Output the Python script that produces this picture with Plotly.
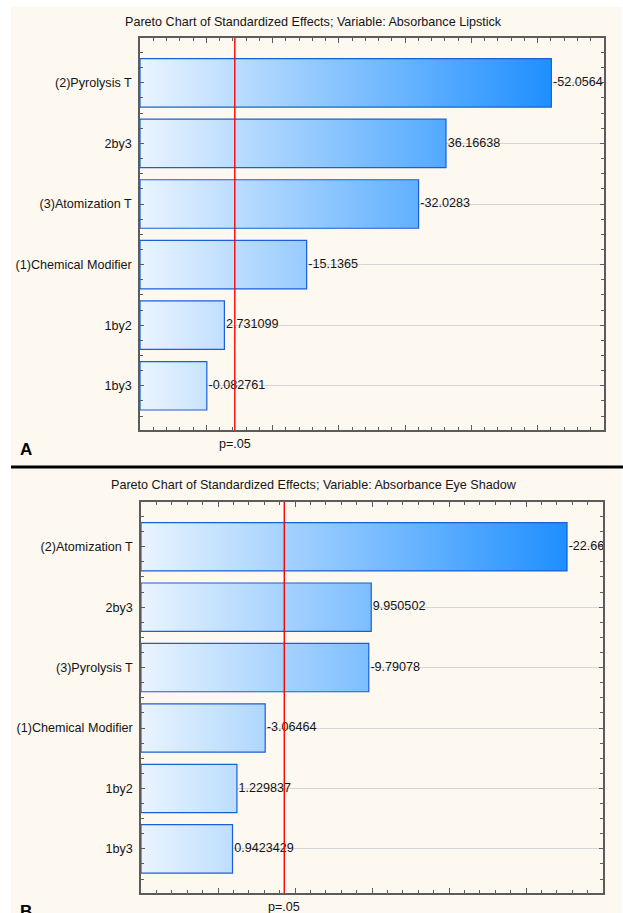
import plotly.graph_objects as go

# ---------------- data ----------------
CATS_A = ["(2)Pyrolysis T", "2by3", "(3)Atomization T", "(1)Chemical Modifier", "1by2", "1by3"]
EFFECTS_A = [-52.0564, 36.16638, -32.0283, -15.1365, 2.731099, -0.082761]
TITLE_A = "Pareto Chart of Standardized Effects; Variable: Absorbance Lipstick"

CATS_B = ["(2)Atomization T", "2by3", "(3)Pyrolysis T", "(1)Chemical Modifier", "1by2", "1by3"]
EFFECTS_B = [-22.6648, 9.950502, -9.79078, -3.06464, 1.229837, 0.9423429]
TITLE_B = "Pareto Chart of Standardized Effects; Variable: Absorbance Eye Shadow"

T_CRIT = 4.303          # p=.05 critical value
P_LABEL = "p=.05"

X_RANGE_A = [-10, 60]
X_RANGE_B = [-5, 25]

# ---------------- style ----------------
FONT = "Liberation Sans, Arial, sans-serif"
FS = 12.6
TXT = "#151515"
AXC = "#5c5c5c"
CREAM = "#fdf8f0"
BAR_LINE = "#1a5fd6"
GRAD = [[0, "#eaf4fe"], [1, "#1e8fff"]]
BAR_H = 0.8
W, H = 623, 913


def px_x(p):
    return p / W


def px_y(p):
    return 1 - p / H


fig = go.Figure()


def add_panel(idx, cats, effects, xr, dtick, minor_dtick, dom_x, dom_y):
    xa = "x" if idx == 1 else f"x{idx}"
    ya = "y" if idx == 1 else f"y{idx}"
    pos = list(range(len(cats)))
    mags = [abs(v) for v in effects]
    base = xr[0]
    bx, by = [], []
    for p, m in zip(pos, mags):
        bx += [base, m, m, base, base, None]
        by += [p - BAR_H / 2, p - BAR_H / 2, p + BAR_H / 2, p + BAR_H / 2, p - BAR_H / 2, None]
    fig.add_trace(go.Scatter(
        x=bx, y=by, xaxis=xa, yaxis=ya, mode="lines", fill="toself",
        line=dict(color=BAR_LINE, width=1.2),
        fillgradient=dict(type="horizontal", colorscale=GRAD, start=base, stop=max(mags)),
        hoverinfo="skip", showlegend=False,
    ))
    fig.add_trace(go.Scatter(
        x=mags, y=pos, xaxis=xa, yaxis=ya, mode="markers+text",
        marker=dict(size=1, opacity=0),
        text=[str(v) for v in effects], textposition="middle right",
        textfont=dict(family=FONT, size=FS, color=TXT),
        cliponaxis=True, showlegend=False, hoverinfo="skip",
    ))
    key_x = "xaxis" if idx == 1 else f"xaxis{idx}"
    key_y = "yaxis" if idx == 1 else f"yaxis{idx}"
    fig.layout[key_x] = dict(
        domain=dom_x, anchor=ya, range=xr, showgrid=False, zeroline=False,
        showline=True, linecolor=AXC, linewidth=1.5, mirror="ticks",
        ticks="inside", tickcolor=AXC, ticklen=5, tickwidth=1, dtick=dtick, tick0=0,
        showticklabels=False, fixedrange=True,
        minor=dict(dtick=minor_dtick, tick0=0, ticks="inside", ticklen=3, tickcolor=AXC, tickwidth=1),
    )
    fig.layout[key_y] = dict(
        domain=dom_y, anchor=xa, range=[len(cats) - 0.27, -0.74],
        tickmode="array", tickvals=pos, ticktext=cats,
        tickfont=dict(family=FONT, size=FS, color=TXT),
        showgrid=True, gridcolor="#d6d6d6", gridwidth=1, zeroline=False,
        showline=True, linecolor=AXC, linewidth=1.5, mirror="ticks",
        ticks="inside", tickcolor=AXC, ticklen=4, ticklabelstandoff=4, fixedrange=True,
        minor=dict(dtick=0.25, tick0=0, ticks="inside", ticklen=3, tickcolor=AXC, showgrid=False),
    )
    fig.add_shape(type="line", xref=xa, yref=f"{ya} domain", x0=T_CRIT, x1=T_CRIT, y0=0, y1=1,
                  line=dict(color="#ff0000", width=1.4), layer="above")
    fig.add_annotation(
        x=T_CRIT, xref=xa, y=dom_y[0], yref="paper", yshift=-14, yanchor="middle", text=P_LABEL,
        showarrow=False, font=dict(family=FONT, size=FS, color=TXT),
    )


add_panel(1, CATS_A, EFFECTS_A, X_RANGE_A, 10, 2,
          [px_x(140), px_x(604)], [px_y(430), px_y(38)])
add_panel(2, CATS_B, EFFECTS_B, X_RANGE_B, 5, 1,
          [px_x(141), px_x(603)], [px_y(893), px_y(502)])

# cream panel background and black separator
fig.add_shape(type="rect", xref="paper", yref="paper", x0=px_x(11), x1=px_x(622),
              y0=0, y1=px_y(7), fillcolor=CREAM, line=dict(width=0), layer="below")
fig.add_shape(type="line", xref="paper", yref="paper", x0=px_x(11), x1=1,
              y0=px_y(467), y1=px_y(467), line=dict(color="black", width=3))

# titles and panel letters
fig.add_annotation(x=px_x(313), y=px_y(22), xref="paper", yref="paper", text=TITLE_A,
                   xanchor="center", yanchor="middle",
                   showarrow=False, font=dict(family=FONT, size=FS, color=TXT))
fig.add_annotation(x=px_x(314), y=px_y(485), xref="paper", yref="paper", text=TITLE_B,
                   xanchor="center", yanchor="middle",
                   showarrow=False, font=dict(family=FONT, size=FS, color=TXT))
fig.add_annotation(x=px_x(26), y=px_y(449), xref="paper", yref="paper", text="<b>A</b>",
                   xanchor="center", yanchor="middle",
                   showarrow=False, font=dict(family=FONT, size=17, color="black"))
fig.add_annotation(x=px_x(26), y=px_y(900), xref="paper", yref="paper", text="<b>B</b>",
                   xanchor="center", yanchor="top",
                   showarrow=False, font=dict(family=FONT, size=17, color="black"))

fig.update_layout(
    width=W, height=H, margin=dict(l=0, r=0, t=0, b=0),
    paper_bgcolor="white", plot_bgcolor="white", showlegend=False,
)

fig.write_html("out.html", config={"displayModeBar": False},
               post_script="document.body.style.margin='0';document.body.style.overflow='hidden';")
